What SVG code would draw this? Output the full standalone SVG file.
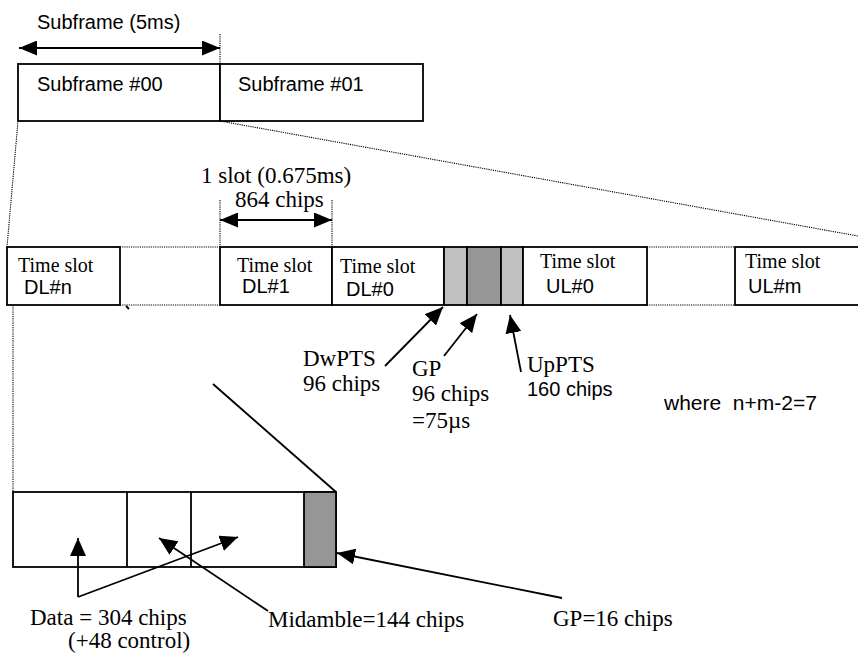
<svg xmlns="http://www.w3.org/2000/svg" width="858" height="655" viewBox="0 0 858 655">
  <defs>
    <marker id="ah" markerUnits="userSpaceOnUse" markerWidth="18" markerHeight="15" refX="18" refY="7.5" orient="auto-start-reverse">
      <path d="M0,0 L18,7.5 L0,15 z" fill="#000"/>
    </marker>
    <marker id="ah2" markerUnits="userSpaceOnUse" markerWidth="18" markerHeight="16" refX="18" refY="8" orient="auto-start-reverse">
      <path d="M0,0 L18,8 L0,16 z" fill="#000"/>
    </marker>
  </defs>
  <style>
    .box { fill: #fff; stroke: #000; stroke-width: 1.8; }
    .lg { fill: #c0c0c0; stroke: #000; stroke-width: 1.8; }
    .dg { fill: #969696; stroke: #000; stroke-width: 1.8; }
    .dot { fill: none; stroke: #000; stroke-width: 1.1; stroke-dasharray: 1.2 1; }
    .ln { fill: none; stroke: #000; stroke-width: 1.8; }
    .arial { font-family: "Liberation Sans", Arial, sans-serif; fill: #000; }
    .times { font-family: "Liberation Serif", "Times New Roman", serif; fill: #000; }
    .a20 { font-size: 20px; }
    .a21 { font-size: 21px; }
    .t20 { font-size: 20px; }
    .t23 { font-size: 23px; }
  </style>
  <rect width="858" height="655" fill="#fff"/>

  <g id="subframe-label">
    <text class="arial a20" x="37" y="29">Subframe (5ms)</text>
  </g>

  <g id="subframe-00">
    <rect class="box" x="18" y="64" width="202" height="57"/>
    <text class="arial a20" x="37" y="91">Subframe #00</text>
  </g>
  <g id="subframe-01">
    <rect class="box" x="220" y="64" width="203" height="57"/>
    <text class="arial a20" x="238" y="91">Subframe #01</text>
  </g>

  <g id="slot-label">
    <text class="times t23" x="201" y="183">1 slot (0.675ms)</text>
    <text class="times t23" x="235" y="207">864 chips</text>
  </g>

  <g id="slot-dln">
    <rect class="box" x="7" y="247" width="113" height="58"/>
    <text class="times t20" x="18" y="272">Time slot</text>
    <text class="arial a20" x="24" y="294">DL#n</text>
  </g>
  <g id="slot-dl1">
    <rect class="box" x="220" y="247" width="112" height="58"/>
    <text class="times t20" x="237" y="272">Time slot</text>
    <text class="arial a20" x="242" y="293">DL#1</text>
  </g>
  <g id="slot-dl0">
    <rect class="box" x="332" y="247" width="112" height="58"/>
    <text class="times t20" x="340" y="273">Time slot</text>
    <text class="arial a20" x="346" y="296">DL#0</text>
  </g>
  <g id="dwpts">
    <rect class="lg" x="444" y="247" width="23" height="58"/>
  </g>
  <g id="gp">
    <rect class="dg" x="467" y="247" width="34" height="58"/>
  </g>
  <g id="uppts">
    <rect class="lg" x="501" y="247" width="22" height="58"/>
  </g>
  <g id="slot-ul0">
    <rect class="box" x="523" y="247" width="124" height="58"/>
    <text class="times t20" x="540" y="268">Time slot</text>
    <text class="arial a20" x="546" y="293">UL#0</text>
  </g>
  <g id="slot-ulm">
    <rect class="box" x="735" y="247" width="140" height="58"/>
    <text class="times t20" x="745" y="268">Time slot</text>
    <text class="arial a20" x="748" y="293">UL#m</text>
  </g>

  <g id="dwpts-label">
    <text class="times t23" x="303" y="366">DwPTS</text>
    <text class="times t23" x="303" y="391">96 chips</text>
  </g>
  <g id="gp-label">
    <text class="times t23" x="412" y="376">GP</text>
    <text class="times t23" x="412" y="401">96 chips</text>
    <text class="times t23" x="412" y="428">=75µs</text>
  </g>
  <g id="uppts-label">
    <text class="times t23" x="527" y="372">UpPTS</text>
    <text class="arial a20" x="527" y="396">160 chips</text>
  </g>
  <g id="where-label">
    <text class="arial a21" x="664" y="410" xml:space="preserve">where  n+m-2=7</text>
  </g>

  <g id="burst">
    <rect class="box" x="13" y="492" width="323" height="75"/>
    <line class="ln" x1="127" y1="492" x2="127" y2="567"/>
    <line class="ln" x1="191" y1="492" x2="191" y2="567"/>
    <rect class="dg" x="304" y="492" width="32" height="75"/>
  </g>

  <g id="burst-labels">
    <text class="times t23" x="30" y="625" xml:space="preserve">Data = 304 chips</text>
    <text class="times t23" x="68" y="648">(+48 control)</text>
    <text class="times t23" x="268" y="627">Midamble=144 chips</text>
    <text class="times t23" x="553" y="626">GP=16 chips</text>
  </g>

  <g id="connectors">
    <line class="ln" x1="19" y1="48" x2="220" y2="48" marker-start="url(#ah)" marker-end="url(#ah)"/>
    <line class="dot" x1="220" y1="34" x2="220" y2="64"/>
    <line class="ln" x1="220" y1="220" x2="332" y2="220" marker-start="url(#ah)" marker-end="url(#ah)"/>
    <line class="dot" x1="220" y1="200" x2="220" y2="247"/>
    <line class="dot" x1="332" y1="200" x2="332" y2="247"/>
    <line class="dot" x1="18" y1="121" x2="7" y2="247"/>
    <line class="dot" x1="220" y1="121" x2="858" y2="236"/>
    <line class="dot" x1="120" y1="247" x2="220" y2="247"/>
    <line class="dot" x1="120" y1="305" x2="220" y2="305"/>
    <line class="dot" x1="647" y1="247" x2="735" y2="247"/>
    <line class="dot" x1="647" y1="305" x2="735" y2="305"/>
    <line class="dot" x1="13" y1="305" x2="13" y2="492"/>
    <line class="ln" x1="126" y1="306" x2="129" y2="309"/>
    <line class="ln" x1="213" y1="384" x2="336" y2="492"/>
    <line class="ln" x1="385" y1="366" x2="443" y2="307" marker-end="url(#ah2)"/>
    <line class="ln" x1="444" y1="356" x2="477" y2="314" marker-end="url(#ah2)"/>
    <line class="ln" x1="521" y1="372" x2="510" y2="315" marker-end="url(#ah2)"/>
    <line class="ln" x1="78" y1="597" x2="78" y2="538" marker-end="url(#ah2)"/>
    <line class="ln" x1="78" y1="597" x2="238" y2="537" marker-end="url(#ah2)"/>
    <line class="ln" x1="268" y1="611" x2="159" y2="538" marker-end="url(#ah2)"/>
    <line class="ln" x1="562" y1="598" x2="337" y2="553" marker-end="url(#ah2)"/>
  </g>
</svg>
